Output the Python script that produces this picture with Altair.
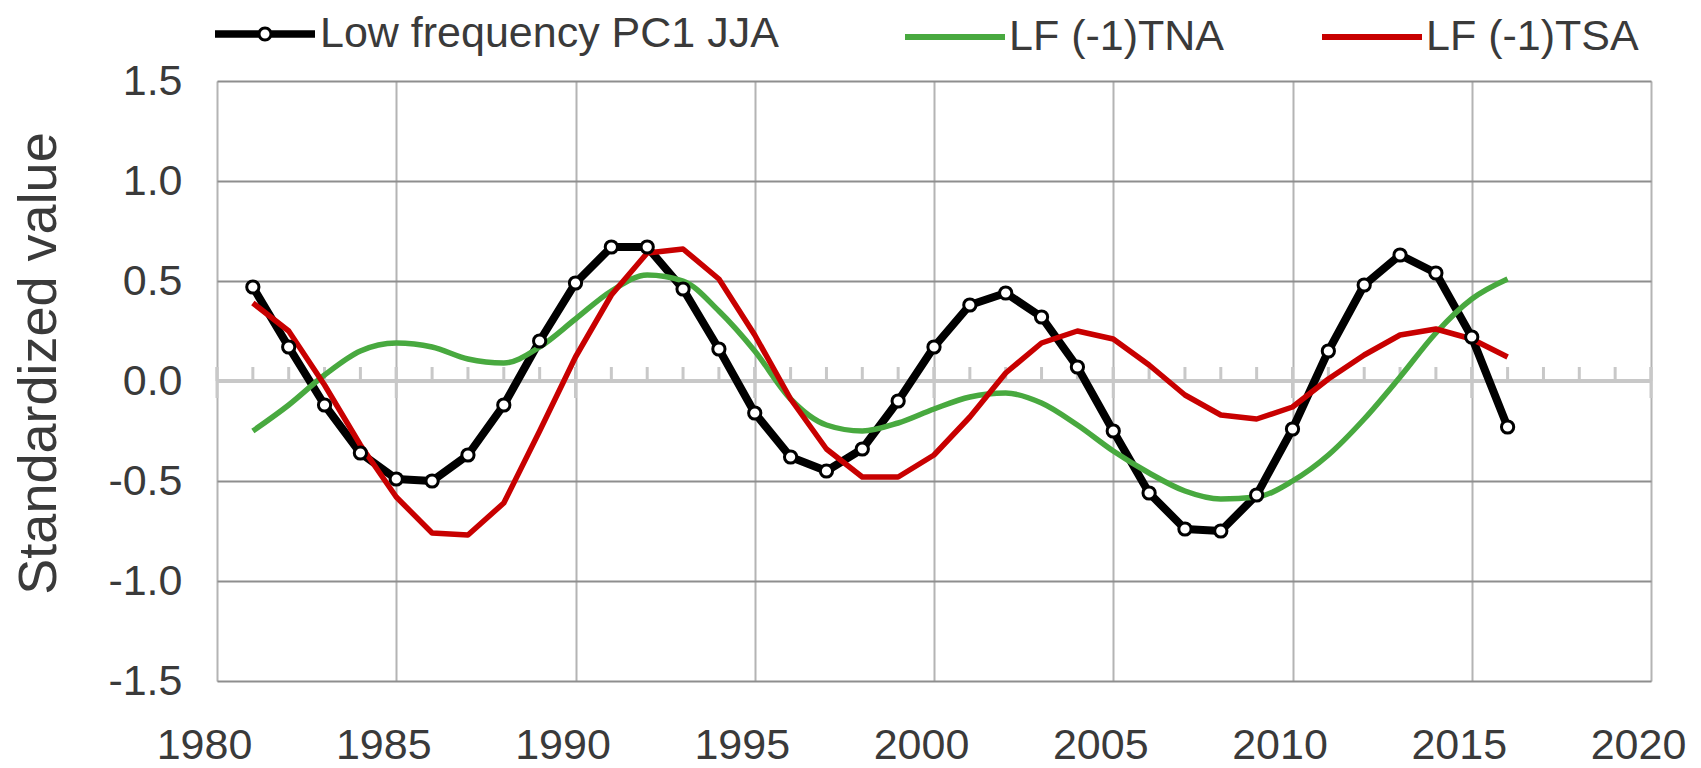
import altair as alt
import pandas as pd

# ---------------- data ----------------
years = list(range(1981, 2017))
pc1_jja = [0.47, 0.17, -0.12, -0.36, -0.49, -0.50, -0.37, -0.12, 0.20, 0.49,
           0.67, 0.67, 0.46, 0.16, -0.16, -0.38, -0.45, -0.34, -0.10, 0.17,
           0.38, 0.44, 0.32, 0.07, -0.25, -0.56, -0.74, -0.75, -0.57, -0.24,
           0.15, 0.48, 0.63, 0.54, 0.22, -0.23]
lf_tna = [-0.25, -0.12, 0.03, 0.15, 0.19, 0.17, 0.11, 0.09, 0.17, 0.31,
          0.45, 0.53, 0.50, 0.35, 0.15, -0.09, -0.22, -0.25, -0.21, -0.14,
          -0.08, -0.06, -0.11, -0.22, -0.35, -0.46, -0.55, -0.59, -0.58, -0.50,
          -0.37, -0.19, 0.02, 0.24, 0.41, 0.51]
lf_tsa = [0.39, 0.25, -0.02, -0.32, -0.58, -0.76, -0.77, -0.61, -0.25, 0.12,
          0.43, 0.64, 0.66, 0.51, 0.23, -0.09, -0.34, -0.48, -0.48, -0.37,
          -0.18, 0.04, 0.19, 0.25, 0.21, 0.08, -0.07, -0.17, -0.19, -0.13,
          0.01, 0.13, 0.23, 0.26, 0.21, 0.12]

series_names = ["Low frequency PC1 JJA", "LF (-1)TNA", "LF (-1)TSA"]
series_colors = ["#000000", "#48a93f", "#c80000"]

x_tick_values = list(range(1980, 2021, 5))
minor_tick_years = list(range(1980, 2021))
y_tick_values = [-1.5, -1.0, -0.5, 0.0, 0.5, 1.0, 1.5]

# ---------------- tables ----------------
df = pd.DataFrame({
    "year": years * 3,
    "value": pc1_jja + lf_tna + lf_tsa,
    "series": [series_names[0]] * len(years) + [series_names[1]] * len(years)
              + [series_names[2]] * len(years),
})
zero_df = pd.DataFrame({"z": [0.0]})
minor_df = pd.DataFrame({"year": minor_tick_years})
major_df = pd.DataFrame({"year": x_tick_values})

FONT = "Liberation Sans"
TXT = "#3a3a3a"

# legend symbol for the black series: thick line with an open circle marker
LINE_MARKER_PATH = (
    "M-1,-0.075 H-0.13 V0.075 H-1 Z "
    "M0.13,-0.075 H1 V0.075 H0.13 Z "
    "M0.15,0 A0.15,0.15 0 1,1 -0.15,0 A0.15,0.15 0 1,1 0.15,0 Z "
    "M0.09,0 A0.09,0.09 0 1,0 -0.09,0 A0.09,0.09 0 1,0 0.09,0 Z"
)

x_enc = alt.X(
    "year:Q",
    scale=alt.Scale(domain=[1980, 2020], nice=False, zero=False),
    axis=alt.Axis(values=x_tick_values, format="d", title=None, grid=True,
                  gridColor="#b4b4b4", gridWidth=2, ticks=False, domain=False,
                  labelFontSize=43, labelFont=FONT, labelColor=TXT,
                  labelPadding=43, labelOffset=-13, labelFlush=False,
                  labelOverlap=False),
)
y_enc = alt.Y(
    "value:Q",
    scale=alt.Scale(domain=[-1.5, 1.5], nice=False, zero=False),
    axis=alt.Axis(values=y_tick_values, title="Standardized value",
                  labelExpr="(datum.value < 0 ? '-' : '') + format(abs(datum.value), '.1f')",
                  grid=True, gridColor="#8e8e8e", gridWidth=2, ticks=False,
                  domain=False, labelFontSize=43, labelFont=FONT,
                  labelColor=TXT, labelPadding=35, labelFlush=False,
                  labelOverlap=False, titleFontSize=54, titleFont=FONT,
                  titleFontWeight="normal", titleColor=TXT, titleAngle=-90,
                  titleX=-178, titleY=282, titleBaseline="middle",
                  titleAlign="center"),
)


def legend_for(legend_x, **kw):
    return alt.Legend(title=None, orient="none", legendX=legend_x,
                      legendY=-97, direction="horizontal", symbolSize=10000,
                      symbolOpacity=1, labelFontSize=43, labelFont=FONT,
                      labelColor=TXT, labelLimit=2000, padding=0, **kw)


def series_color(i, legend):
    return alt.Color(
        "series:N",
        scale=alt.Scale(domain=[series_names[i]], range=[series_colors[i]]),
        legend=legend,
    )


base = alt.Chart(df)

zero_line = alt.Chart(zero_df).mark_rule(color="#c8c8c8", strokeWidth=4).encode(
    y=alt.Y("z:Q", scale=alt.Scale(domain=[-1.5, 1.5]))
)
minor_ticks = alt.Chart(minor_df).mark_rule(
    color="#c8c8c8", strokeWidth=3, yOffset=0, y2Offset=-14
).encode(x="year:Q", y=alt.datum(0), y2=alt.datum(0))
major_ticks = alt.Chart(major_df).mark_rule(
    color="#c8c8c8", strokeWidth=3, yOffset=17, y2Offset=-14
).encode(x="year:Q", y=alt.datum(0), y2=alt.datum(0))

black_line = base.transform_filter(
    alt.datum.series == series_names[0]
).mark_line(strokeWidth=8, interpolate="linear", strokeJoin="round").encode(
    x=x_enc, y=y_enc, color=series_color(0, None))
green_line = base.transform_filter(
    alt.datum.series == series_names[1]
).mark_line(strokeWidth=5.5, interpolate="monotone").encode(
    x=x_enc, y=y_enc,
    color=series_color(1, legend_for(685, symbolType="stroke",
                                     symbolStrokeWidth=6, labelOffset=1)))
red_line = base.transform_filter(
    alt.datum.series == series_names[2]
).mark_line(strokeWidth=5.5, interpolate="linear", strokeJoin="round").encode(
    x=x_enc, y=y_enc,
    color=series_color(2, legend_for(1102, symbolType="stroke",
                                     symbolStrokeWidth=6, labelOffset=1)))

# invisible filled points that only carry the black series' legend entry
black_key = base.transform_filter(
    alt.datum.series == series_names[0]
).mark_point(filled=True, opacity=0, size=10).encode(
    x=x_enc, y=y_enc,
    color=series_color(0, legend_for(-2, symbolType=LINE_MARKER_PATH,
                                     symbolFillColor="black",
                                     symbolStrokeWidth=0, labelOffset=5)))

black_points = base.transform_filter(
    alt.datum.series == series_names[0]
).mark_point(
    filled=True, fill="white", stroke="black", strokeWidth=3, size=150,
    opacity=1
).encode(x=x_enc, y=y_enc)

chart = alt.layer(
    zero_line, minor_ticks, major_ticks, black_line, green_line, red_line,
    black_key, black_points
).resolve_scale(
    color="independent"
).properties(
    width=1434, height=600,
    autosize=alt.AutoSizeParams(type="none"),
    padding={"left": 209, "top": 73, "right": 42, "bottom": 86},
).configure_view(
    stroke="#404040", strokeWidth=3
).configure(background="white")

chart.save("out.html", embed_options={"renderer": "svg", "actions": False})
